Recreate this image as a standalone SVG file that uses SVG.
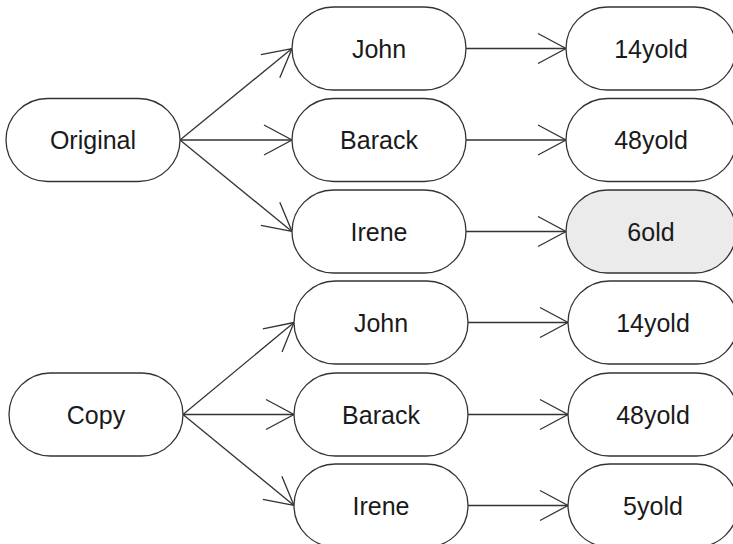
<svg xmlns="http://www.w3.org/2000/svg" width="733" height="544" viewBox="0 0 733 544">
<defs>
<style>
.n rect{fill:#ffffff;stroke:#333333;stroke-width:1.3}
.n.g rect{fill:#ebebeb}
.n text{font-family:"Liberation Sans",Arial,sans-serif;font-size:25px;fill:#1a1a1a;text-anchor:middle}
.e line{stroke:#333333;stroke-width:1.3;fill:none;marker-end:url(#arr)}
</style>
<marker id="arr" markerUnits="userSpaceOnUse" markerWidth="40" markerHeight="40" viewBox="-30 -20 40 40" refX="0" refY="0" orient="auto" overflow="visible">
<path d="M -28 -15 L 0 0 L -28 15" fill="none" stroke="#333333" stroke-width="1.3"/>
</marker>
</defs>
<rect width="733" height="544" fill="#ffffff"/>
<g id="connectors" class="e">
<line x1="180" y1="140" x2="292" y2="48.5"/>
<line x1="180" y1="140" x2="292" y2="140"/>
<line x1="180" y1="140" x2="292" y2="231.5"/>
<line x1="466" y1="48.5" x2="566" y2="48.5"/>
<line x1="466" y1="140" x2="566" y2="140"/>
<line x1="466" y1="231.5" x2="566" y2="231.5"/>
<line x1="183" y1="414.5" x2="294" y2="322.5"/>
<line x1="183" y1="414.5" x2="294" y2="414.5"/>
<line x1="183" y1="414.5" x2="294" y2="505.5"/>
<line x1="468" y1="322.5" x2="568" y2="322.5"/>
<line x1="468" y1="414.5" x2="568" y2="414.5"/>
<line x1="468" y1="505.5" x2="568" y2="505.5"/>
</g>
<g id="original" class="n"><rect x="6" y="98.5" width="174" height="83" rx="41.5"/><text x="93" y="149">Original</text></g>
<g id="john1" class="n"><rect x="292" y="7" width="174" height="83" rx="41.5"/><text x="379" y="57.5">John</text></g>
<g id="barack1" class="n"><rect x="292" y="98.5" width="174" height="83" rx="41.5"/><text x="379" y="149">Barack</text></g>
<g id="irene1" class="n"><rect x="292" y="190" width="174" height="83" rx="41.5"/><text x="379" y="240.5">Irene</text></g>
<g id="age1" class="n"><rect x="566" y="7" width="170" height="83" rx="41.5"/><text x="651" y="57.5">14yold</text></g>
<g id="age2" class="n"><rect x="566" y="98.5" width="170" height="83" rx="41.5"/><text x="651" y="149">48yold</text></g>
<g id="age3" class="n g"><rect x="566" y="190" width="170" height="83" rx="41.5"/><text x="651" y="240.5">6old</text></g>
<g id="copy" class="n"><rect x="9" y="373" width="174" height="83" rx="41.5"/><text x="96" y="423.5">Copy</text></g>
<g id="john2" class="n"><rect x="294" y="281" width="174" height="83" rx="41.5"/><text x="381" y="331.5">John</text></g>
<g id="barack2" class="n"><rect x="294" y="373" width="174" height="83" rx="41.5"/><text x="381" y="423.5">Barack</text></g>
<g id="irene2" class="n"><rect x="294" y="464" width="174" height="83" rx="41.5"/><text x="381" y="514.5">Irene</text></g>
<g id="age4" class="n"><rect x="568" y="281" width="170" height="83" rx="41.5"/><text x="653" y="331.5">14yold</text></g>
<g id="age5" class="n"><rect x="568" y="373" width="170" height="83" rx="41.5"/><text x="653" y="423.5">48yold</text></g>
<g id="age6" class="n"><rect x="568" y="464" width="170" height="83" rx="41.5"/><text x="653" y="514.5">5yold</text></g>
</svg>
